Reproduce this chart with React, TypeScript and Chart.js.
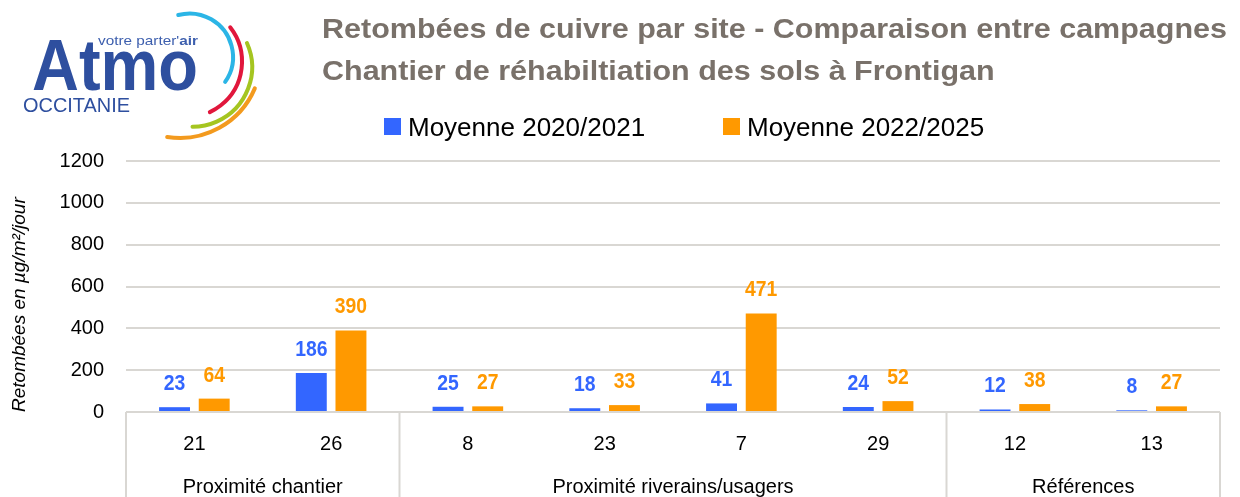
import React, { useEffect, useRef } from 'react';
import { Chart, registerables } from 'chart.js';

Chart.register(...registerables);

// ---- Data ----
const sites = ['21', '26', '8', '23', '7', '29', '12', '13'];
const groupLabels = ['Proximité chantier', 'Proximité riverains/usagers', 'Références'];
const groupSizes = [2, 4, 2];
const series1Label = 'Moyenne 2020/2021';
const series2Label = 'Moyenne 2022/2025';
const series1 = [23, 186, 25, 18, 41, 24, 12, 8];
const series2 = [64, 390, 27, 33, 471, 52, 38, 27];
const yTicks = [0, 200, 400, 600, 800, 1000, 1200];
const titleLines = [
  'Retombées de cuivre par site - Comparaison entre campagnes',
  'Chantier de réhabiltiation des sols à Frontigan',
];
const yTitle = 'Retombées en µg/m²/jour';

const BLUE = '#3366FF';
const ORANGE = '#FF9900';
const GRID = '#d9d7d3';
const FONT = '"Liberation Sans", Arial, sans-serif';

const headerPlugin = {
  id: 'header',
  afterDraw(chart: any) {
    const ctx: CanvasRenderingContext2D = chart.ctx;
    ctx.save();
    // --- Logo ---
    const logoBlue = '#2e4f9f';
    ctx.textBaseline = 'alphabetic';
    ctx.textAlign = 'left';
    {
      const t1 = "votre parter'";
      ctx.font = `13px ${FONT}`;
      const w1 = ctx.measureText(t1).width;
      ctx.font = `bold 13px ${FONT}`;
      const w2 = ctx.measureText('air').width;
      ctx.save();
      ctx.translate(98, 45);
      ctx.scale(100 / (w1 + w2), 1);
      ctx.fillStyle = '#3d5fae';
      ctx.font = `13px ${FONT}`;
      ctx.fillText(t1, 0, 0);
      ctx.font = `bold 13px ${FONT}`;
      ctx.fillText('air', w1, 0);
      ctx.restore();
    }

    ctx.fillStyle = logoBlue;
    ctx.font = `bold 72px ${FONT}`;
    const wa = ctx.measureText('Atmo').width;
    ctx.save();
    ctx.translate(32, 90);
    ctx.scale(166 / wa, 1);
    ctx.fillText('Atmo', 0, 0);
    ctx.restore();

    ctx.font = `20px ${FONT}`;
    const wo = ctx.measureText('OCCITANIE').width;
    ctx.save();
    ctx.translate(23, 112);
    ctx.scale(107 / wo, 1);
    ctx.fillText('OCCITANIE', 0, 0);
    ctx.restore();

    const deg = Math.PI / 180;
    const arcs = [
      { cx: 189.5, cy: 57, r: 43.5, a0: -105, a1: 35, c: '#2bb5e6' },
      { cx: 186.3, cy: 61.6, r: 55.7, a0: -38, a1: 65, c: '#e1173c' },
      { cx: 192.5, cy: 67.2, r: 59.6, a0: -24, a1: 90, c: '#a5c520' },
      { cx: 179.9, cy: 56.6, r: 81.4, a0: 23, a1: 99, c: '#f39a1e' },
    ];
    ctx.lineWidth = 4;
    ctx.lineCap = 'round';
    for (const a of arcs) {
      ctx.strokeStyle = a.c;
      ctx.beginPath();
      ctx.arc(a.cx, a.cy, a.r, a.a0 * deg, a.a1 * deg);
      ctx.stroke();
    }

    // --- Title ---
    ctx.fillStyle = '#79716a';
    ctx.font = `bold 28px ${FONT}`;
    const tw = ctx.measureText(titleLines[0]).width;
    const sx = 905 / tw;
    ctx.save();
    ctx.translate(322, 0);
    ctx.scale(sx, 1);
    ctx.fillText(titleLines[0], 0, 38);
    ctx.fillText(titleLines[1], 0, 80);
    ctx.restore();

    // --- Legend ---
    ctx.font = `26px ${FONT}`;
    const ds = chart.data.datasets;
    const xs = [384, 723];
    ds.forEach((d: any, i: number) => {
      ctx.fillStyle = d.backgroundColor;
      ctx.fillRect(xs[i], 118, 17, 17);
      ctx.fillStyle = '#000';
      ctx.fillText(d.label, xs[i] + 24, 135.5);
    });
    ctx.restore();
  },
};

const dataLabelPlugin = {
  id: 'dataLabels',
  afterDatasetsDraw(chart: any) {
    const ctx: CanvasRenderingContext2D = chart.ctx;
    ctx.save();
    ctx.font = `bold 22px ${FONT}`;
    ctx.textAlign = 'center';
    ctx.textBaseline = 'alphabetic';
    chart.data.datasets.forEach((d: any, i: number) => {
      const meta = chart.getDatasetMeta(i);
      meta.data.forEach((bar: any, j: number) => {
        ctx.save();
        ctx.translate(bar.x, bar.y - 17);
        ctx.scale(0.88, 1);
        ctx.fillStyle = d.backgroundColor;
        ctx.fillText(String(d.data[j]), 0, 0);
        ctx.restore();
      });
    });
    ctx.restore();
  },
};

const groupAxisPlugin = {
  id: 'groupAxis',
  afterDraw(chart: any) {
    const ctx: CanvasRenderingContext2D = chart.ctx;
    const xs = chart.scales.x;
    const area = chart.chartArea;
    const bottom = chart.height;
    ctx.save();
    ctx.strokeStyle = GRID;
    ctx.lineWidth = 2;
    const half = (xs.getPixelForValue(1) - xs.getPixelForValue(0)) / 2;
    let start = 0;
    const bounds: number[] = [area.left];
    groupSizes.forEach((n) => {
      start += n;
      bounds.push(start >= sites.length ? area.right : xs.getPixelForValue(start - 1) + half);
    });
    bounds.forEach((x) => {
      ctx.beginPath();
      ctx.moveTo(x, area.bottom);
      ctx.lineTo(x, bottom);
      ctx.stroke();
    });
    ctx.fillStyle = '#000';
    ctx.font = `20px ${FONT}`;
    ctx.textAlign = 'center';
    ctx.textBaseline = 'alphabetic';
    groupLabels.forEach((g, i) => {
      ctx.fillText(g, (bounds[i] + bounds[i + 1]) / 2, 492.5);
    });
    ctx.restore();
  },
};

export default function App() {
  const ref = useRef<HTMLCanvasElement>(null);
  useEffect(() => {
    document.body.style.margin = '0';
    const canvas = ref.current!;
    const chart = new Chart(canvas, {
      type: 'bar',
      data: {
        labels: sites,
        datasets: [
          { label: series1Label, data: series1, backgroundColor: BLUE },
          { label: series2Label, data: series2, backgroundColor: ORANGE },
        ],
      },
      plugins: [headerPlugin, dataLabelPlugin, groupAxisPlugin],
      options: {
        responsive: false,
        animation: false,
        devicePixelRatio: 1,
        layout: { padding: { top: 161, left: 0, right: 20, bottom: 0 } },
        datasets: { bar: { categoryPercentage: 0.58, barPercentage: 0.78 } },
        plugins: {
          legend: { display: false },
          title: { display: false },
          tooltip: { enabled: false },
        },
        scales: {
          x: {
            grid: { display: false, drawTicks: false },
            border: { display: false },
            ticks: { color: '#000', font: { family: FONT, size: 20 }, padding: 20, maxRotation: 0 },
            afterFit: (s: any) => { s.height = 85; },
          },
          y: {
            min: yTicks[0],
            max: yTicks[yTicks.length - 1],
            grid: { color: GRID, lineWidth: 2, drawTicks: false },
            border: { display: false },
            ticks: {
              stepSize: yTicks[1] - yTicks[0],
              color: '#000',
              font: { family: FONT, size: 20 },
              padding: 22,
              callback: (v: any) => String(v),
            },
            title: {
              display: true,
              text: yTitle,
              align: 'start',
              color: '#000',
              font: { family: FONT, size: 19, style: 'italic' },
              padding: { top: 8, bottom: 0 },
            },
            afterFit: (s: any) => { s.width = 126; },
          },
        },
      },
    });
    return () => chart.destroy();
  }, []);
  return (
    <div style={{ width: 1240, height: 497 }}>
      <canvas ref={ref} width={1240} height={497} style={{ display: 'block', width: 1240, height: 497 }} />
    </div>
  );
}
